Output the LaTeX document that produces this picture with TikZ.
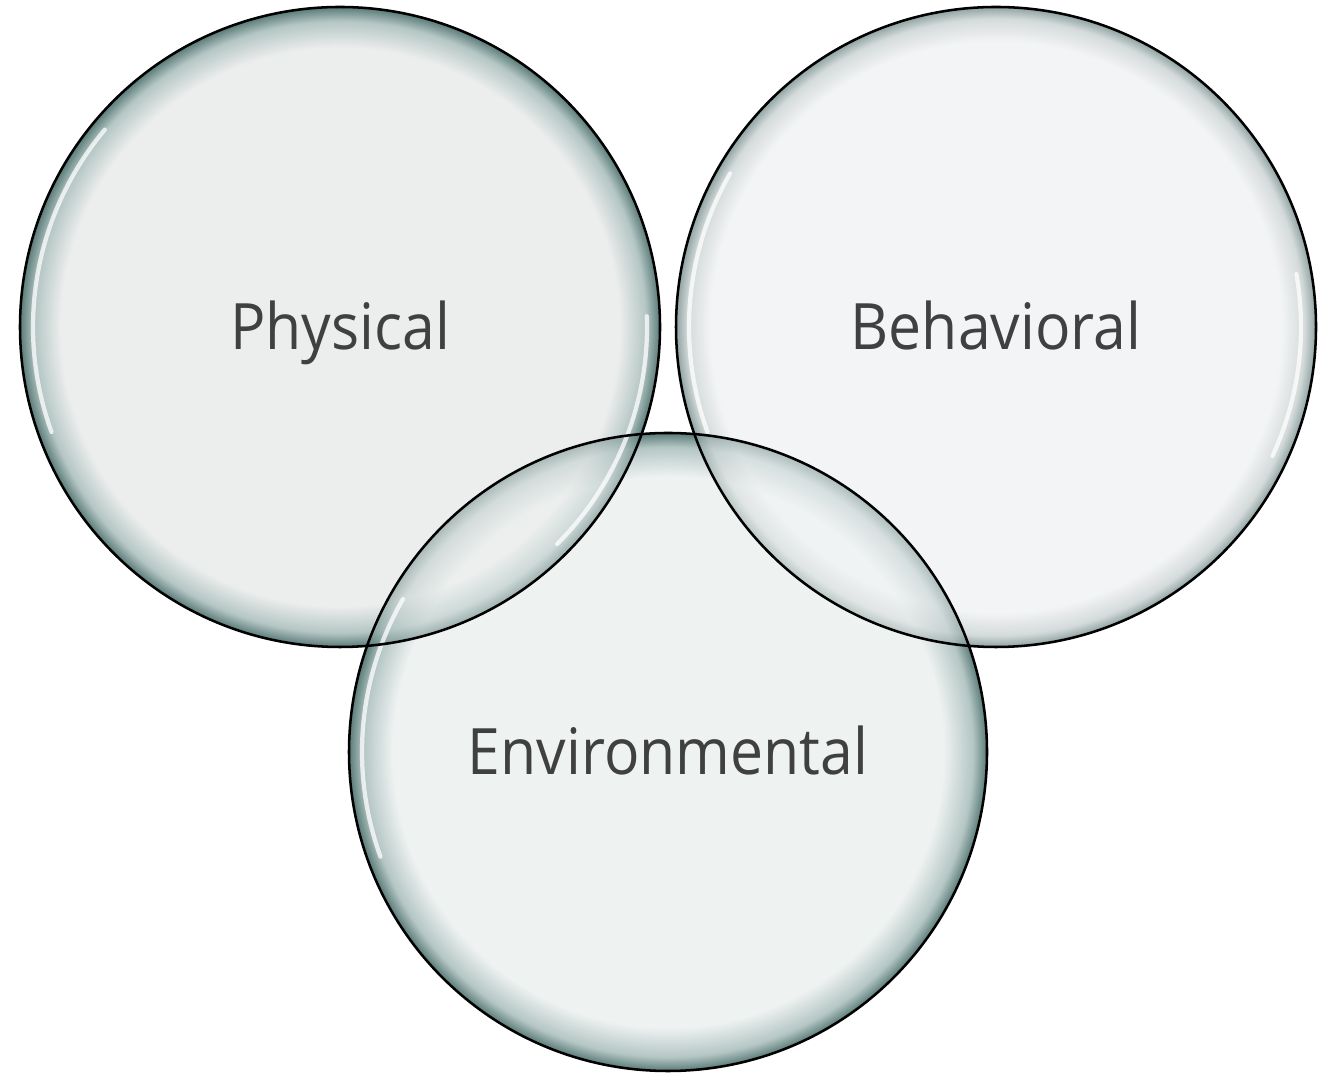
\documentclass[tikz,border=0pt]{standalone}
\usepackage{fontspec}
\setmainfont{Open Sans}[FakeStretch=0.92]
\definecolor{physfill}{HTML}{ECEEED}
\definecolor{behfill}{HTML}{F3F4F6}
\definecolor{envfill}{HTML}{EEF2F1}
\definecolor{rimmid}{HTML}{B4C6C4}
\definecolor{rimdark}{HTML}{5A7B78}
\definecolor{behmid}{HTML}{D4DADA}
\definecolor{behdark}{HTML}{8FA3A2}
\definecolor{txt}{HTML}{404040}
\pgfdeclareradialshading{physshade}{\pgfpoint{0bp}{0bp}}{color(0bp)=(physfill); color(21.8bp)=(physfill); color(23.9bp)=(rimmid); color(25bp)=(rimdark); color(50bp)=(rimdark)}
\pgfdeclareradialshading{behshade}{\pgfpoint{0bp}{0bp}}{color(0bp)=(behfill); color(22.3bp)=(behfill); color(24.1bp)=(behmid); color(25bp)=(behdark); color(50bp)=(behdark)}
\pgfdeclareradialshading{envshade}{\pgfpoint{0bp}{0bp}}{color(0bp)=(envfill); color(21.6bp)=(envfill); color(23.9bp)=(rimmid); color(25bp)=(rimdark); color(50bp)=(rimdark)}
\tikzset{
  rimline/.style={draw=black, line width=1.9},
  glint/.style={draw=white, line width=3.2, line cap=round, opacity=0.75},
  label/.style={text=txt, font=\fontsize{48}{58}\selectfont, anchor=base, inner sep=0pt}
}
\begin{document}
\begin{tikzpicture}[x=0.75pt,y=0.75pt]
\useasboundingbox (0,0) rectangle (1323,1073);
\coordinate (cp) at (340,746);
\coordinate (cb) at (996,746);
\coordinate (ce) at (668,321);
% base circles
\shade[shading=physshade] (cp) circle[radius=320];
\shade[shading=behshade] (cb) circle[radius=320];
\shade[shading=envshade] (ce) circle[radius=319];
% overlaps
\begin{scope}
  \clip (ce) circle[radius=319];
  \shade[shading=physshade, fill opacity=0.55] (cp) circle[radius=320];
  \shade[shading=behshade, fill opacity=0.55] (cb) circle[radius=320];
\end{scope}
% glints
\draw[glint] (cp) ++(140:307) arc[start angle=140, end angle=200, radius=307];
\draw[glint] (cp) ++(-45:307) arc[start angle=-45, end angle=2, radius=307];
\draw[glint] (cb) ++(150:307) arc[start angle=150, end angle=200, radius=307];
\draw[glint] (cb) ++(-25:305) arc[start angle=-25, end angle=10, radius=305];
\draw[glint] (ce) ++(150:306) arc[start angle=150, end angle=200, radius=306];
% outlines
\draw[rimline] (cp) circle[radius=320];
\draw[rimline] (cb) circle[radius=320];
\draw[rimline] (ce) circle[radius=319];
% labels
\node[label] (phys) at (340,723) {Physical};
\node[label] (beh) at (996,723) {Behavioral};
\node[label] (env) at (668,298) {Environmental};
\end{tikzpicture}
\end{document}
